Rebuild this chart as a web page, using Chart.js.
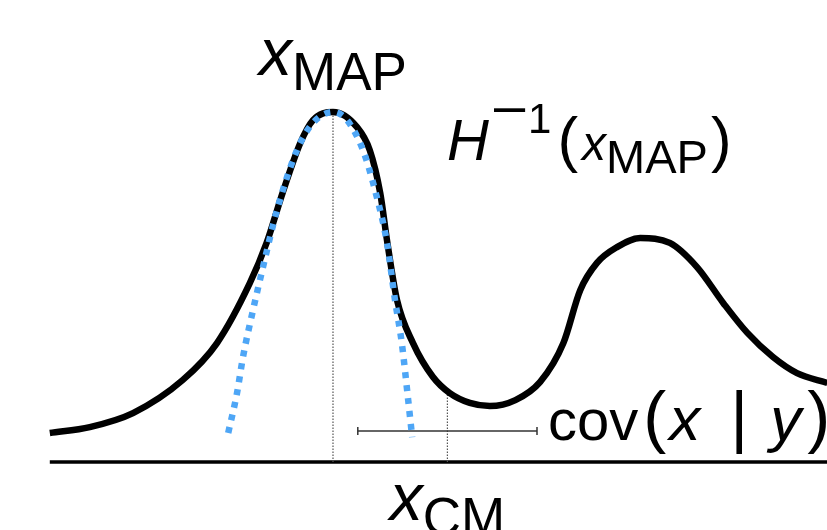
<!DOCTYPE html>
<html>
<head>
<meta charset="utf-8">
<script src="https://cdn.jsdelivr.net/npm/chart.js@4/dist/chart.umd.min.js"></script>
<style>
    body { margin: 0; background: #fff; }
    #wrap { width: 827px; height: 530px; }
</style>
</head>
<body>
<div id="wrap"><canvas id="postChart" width="827" height="530"></canvas></div>
<script>
// posterior density (black)
const postX = [-3.54, -3.04, -2.50, -1.88, -1.45, -1.04, -0.83, -0.63, -0.41, -0.25, 0, 0.30, 0.46, 0.59, 0.68, 0.80, 1.00, 1.25, 1.46, 1.71, 1.96, 2.28, 2.59, 2.88, 3.09, 3.30, 3.55, 3.84, 4.21, 4.55, 4.88, 5.18, 5.50, 5.80, 6.18];
const postY = [0.083, 0.10, 0.14, 0.234, 0.34, 0.511, 0.626, 0.769, 0.911, 0.977, 1.0, 0.957, 0.891, 0.769, 0.626, 0.463, 0.34, 0.243, 0.197, 0.169, 0.16, 0.177, 0.229, 0.34, 0.491, 0.569, 0.614, 0.64, 0.626, 0.557, 0.454, 0.369, 0.30, 0.254, 0.226];

// Laplace approximation around the MAP (blue dotted)
const lapX = [-1.31, -1.20, -1.125, -1.00, -0.875, -0.70, -0.45, -0.25, 0, 0.175, 0.375, 0.525, 0.675, 0.775, 0.86, 0.94, 0.99];
const lapY = [0.083, 0.197, 0.30, 0.434, 0.557, 0.72, 0.891, 0.969, 1.0, 0.977, 0.891, 0.777, 0.626, 0.463, 0.34, 0.177, 0.071];

const xMap = 0;
const xCm = 1.43;
const covHalf = 1.12;
const covLevel = 0.089;
const axisRange = [-3.54, 6.18];

function pts(xs, ys) {
    return xs.map((x, i) => ({ x: x, y: ys[i] }));
}

function curveAt(x) {
    for (let i = 1; i < postX.length; i++) {
        if (x <= postX[i]) {
            const t = (x - postX[i - 1]) / (postX[i] - postX[i - 1]);
            return postY[i - 1] + t * (postY[i] - postY[i - 1]);
        }
    }
    return postY[postY.length - 1];
}

const FONT = "'Liberation Sans', Arial, sans-serif";

// draw a row of text pieces, each with its own size / italic / vertical shift
function drawRuns(ctx, x, baseline, runs, align) {
    const measure = r => {
        ctx.font = (r.italic ? 'italic ' : '') + r.size + 'px ' + FONT;
        return ctx.measureText(r.t).width + (r.dx || 0);
    };
    let total = 0;
    runs.forEach(r => { total += measure(r); });
    let cx = align === 'center' ? x - total / 2 : x;
    runs.forEach(r => {
        const w = measure(r);
        ctx.fillText(r.t, cx + (r.dx || 0), baseline + (r.dy || 0));
        cx += w;
    });
}

const labelPlugin = {
    id: 'labels',
    afterDatasetsDraw(chart) {
        const ctx = chart.ctx;
        const xs = chart.scales.x;
        const ys = chart.scales.y;
        ctx.save();
        ctx.fillStyle = '#000';
        ctx.textBaseline = 'alphabetic';

        drawRuns(ctx, xs.getPixelForValue(xMap), ys.getPixelForValue(1.106), [
            { t: 'x', size: 66, italic: true },
            { t: 'MAP', size: 53, dy: 15 }
        ], 'center');

        drawRuns(ctx, xs.getPixelForValue(1.425), ys.getPixelForValue(0.863), [
            { t: 'H', size: 58, italic: true },
            { t: '\u2013', size: 56, dy: -36, dx: 5 },
            { t: '1', size: 42, dy: -27, dx: 3 },
            { t: '(', size: 62, dx: 6 },
            { t: 'x', size: 48, italic: true, dx: 4 },
            { t: 'MAP', size: 47, dy: 13 },
            { t: ')', size: 62, dx: 3 }
        ], 'left');

        const covStart = xs.getPixelForValue(xCm + covHalf) + 11;
        drawRuns(ctx, covStart, ys.getPixelForValue(covLevel) + 9, [
            { t: 'cov', size: 58 },
            { t: '(', size: 69, dx: 5 },
            { t: 'x', size: 62, italic: true, dx: 3 },
            { t: '|', size: 69, dx: 30 },
            { t: 'y', size: 62, italic: true, dx: 22 },
            { t: ')', size: 69, dx: 6 }
        ], 'left');

        drawRuns(ctx, xs.getPixelForValue(xCm), ys.getPixelForValue(-0.166), [
            { t: 'x', size: 66, italic: true },
            { t: 'CM', size: 53, dy: 15 }
        ], 'center');

        ctx.restore();
    }
};

document.addEventListener('DOMContentLoaded', function() {
    const ctx = document.getElementById('postChart');
    const yCmTop = curveAt(xCm);

    new Chart(ctx, {
        type: 'scatter',
        data: {
            datasets: [
                {
                    label: 'Laplace',
                    data: pts(lapX, lapY),
                    showLine: true,
                    borderColor: '#4ea6f6',
                    borderWidth: 6.5,
                    borderDash: [6, 7],
                    borderCapStyle: 'butt',
                    cubicInterpolationMode: 'monotone',
                    pointRadius: 0
                },
                {
                    label: 'posterior',
                    data: pts(postX, postY),
                    showLine: true,
                    borderColor: '#000',
                    borderWidth: 6.5,
                    cubicInterpolationMode: 'monotone',
                    pointRadius: 0
                },
                {
                    label: 'cov',
                    data: [{ x: xCm - covHalf, y: covLevel }, { x: xCm + covHalf, y: covLevel }],
                    showLine: true,
                    borderColor: '#333',
                    borderWidth: 1.5,
                    pointStyle: 'line',
                    rotation: 90,
                    pointRadius: 4,
                    pointBorderWidth: 1.5,
                    pointBorderColor: '#333'
                },
                {
                    label: 'xMap',
                    data: [{ x: xMap, y: 0 }, { x: xMap, y: 1.0 }],
                    showLine: true,
                    borderColor: '#555',
                    borderWidth: 1.2,
                    borderDash: [1.5, 1.5],
                    pointRadius: 0
                },
                {
                    label: 'xCm',
                    data: [{ x: xCm, y: 0 }, { x: xCm, y: yCmTop }],
                    showLine: true,
                    borderColor: '#555',
                    borderWidth: 1.2,
                    borderDash: [1.5, 1.5],
                    pointRadius: 0
                },
                {
                    label: 'axis',
                    data: [{ x: axisRange[0], y: 0 }, { x: axisRange[1], y: 0 }],
                    showLine: true,
                    borderColor: '#000',
                    borderWidth: 3.5,
                    pointRadius: 0
                }
            ]
        },
        options: {
            responsive: false,
            animation: false,
            events: [],
            layout: { padding: 0, autoPadding: false },
            plugins: {
                legend: { display: false },
                tooltip: { enabled: false }
            },
            scales: {
                x: { type: 'linear', min: -4.1625, max: 6.175, display: false },
                y: { type: 'linear', min: -0.194, max: 1.32, display: false }
            }
        },
        plugins: [labelPlugin]
    });
});
</script>
</body>
</html>
